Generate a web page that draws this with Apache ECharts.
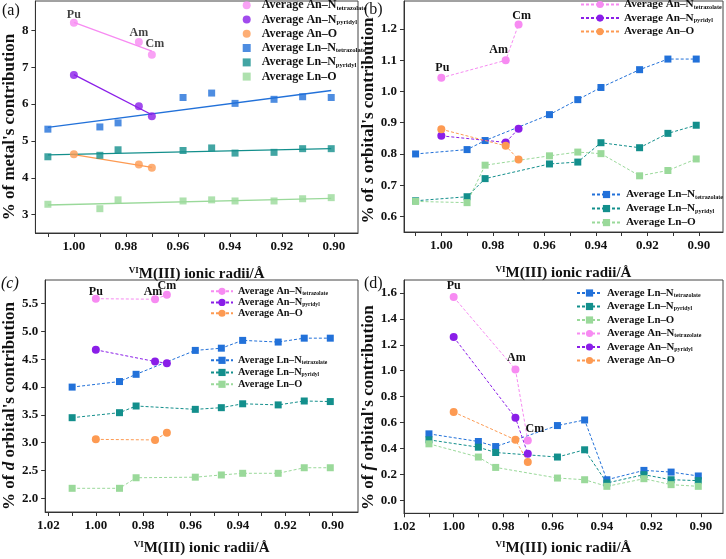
<!DOCTYPE html>
<html>
<head>
<meta charset="utf-8">
<script src="https://cdn.jsdelivr.net/npm/echarts@6/dist/echarts.min.js"></script>
<style>
  html, body { margin: 0; padding: 0; background: #fff; }
  #chart { width: 726px; height: 559px; }
</style>
</head>
<body>
<div id="chart"></div>
<script>
// ionic radii (Å)
const lnRadii = [1.01, 0.99, 0.983, 0.958, 0.947, 0.938, 0.923, 0.912, 0.901];
const anRadii = [1.00, 0.975, 0.97];
const anElements = ['Pu', 'Am', 'Cm'];

// tick values
const xLabelsAB = [1.00, 0.98, 0.96, 0.94, 0.92, 0.90];
const xTicksAB = [1.01, 1.00, 0.99, 0.98, 0.97, 0.96, 0.95, 0.94, 0.93, 0.92, 0.91, 0.90];
const xLabelsCD = [1.02, 1.00, 0.98, 0.96, 0.94, 0.92, 0.90];
const xTicksCD = [1.02, 1.01, 1.00, 0.99, 0.98, 0.97, 0.96, 0.95, 0.94, 0.93, 0.92, 0.91, 0.90];
const yTicksA = [3, 4, 5, 6, 7, 8];
const yTicksB = [0.6, 0.7, 0.8, 0.9, 1.0, 1.1, 1.2];
const yTicksC = [2.0, 2.5, 3.0, 3.5, 4.0, 4.5, 5.0, 5.5];
const yTicksD = [0.0, 0.2, 0.4, 0.6, 0.8, 1.0, 1.2, 1.4, 1.6];

// (a) metal's contribution
const metalAnTet = [8.21, 7.69, 7.34];
const metalAnPyr = [6.79, 5.94, 5.67];
const metalAnO = [4.64, 4.36, 4.27];
const metalLnTet = [5.32, 5.38, 5.49, 6.18, 6.30, 6.02, 6.13, 6.20, 6.18];
const metalLnPyr = [4.57, 4.61, 4.76, 4.74, 4.81, 4.67, 4.69, 4.79, 4.79];
const metalLnO = [3.28, 3.16, 3.40, 3.37, 3.40, 3.37, 3.37, 3.43, 3.46];
// (a) linear fits (end points)
const fitAnRadii = [1.00, 0.97];
const fitLnRadii = [1.01, 0.901];
const metalFitAnTet = [8.22, 7.44];
const metalFitAnPyr = [6.80, 5.71];
const metalFitAnO = [4.63, 4.28];
const metalFitLnTet = [5.37, 6.37];
const metalFitLnPyr = [4.62, 4.79];
const metalFitLnO = [3.26, 3.44];

// (b) s orbital
const sAnTet = [1.044, 1.100, 1.215];
const sAnPyr = [0.858, 0.837, 0.881];
const sAnO = [0.879, 0.826, 0.782];
const sLnTet = [0.800, 0.814, 0.843, 0.926, 0.974, 1.013, 1.070, 1.104, 1.104];
const sLnPyr = [0.650, 0.663, 0.721, 0.768, 0.774, 0.836, 0.820, 0.866, 0.892];
const sLnO = [0.648, 0.644, 0.764, 0.794, 0.806, 0.801, 0.730, 0.747, 0.784];

// (c) d orbital
const dAnTet = [5.59, 5.58, 5.66];
const dAnPyr = [4.67, 4.46, 4.43];
const dAnO = [3.06, 3.05, 3.18];
const dLnTet = [4.00, 4.10, 4.23, 4.66, 4.70, 4.84, 4.81, 4.88, 4.88];
const dLnPyr = [3.45, 3.54, 3.66, 3.60, 3.63, 3.70, 3.68, 3.75, 3.74];
const dLnO = [2.18, 2.18, 2.37, 2.38, 2.42, 2.45, 2.45, 2.55, 2.55];

// (d) f orbital
const fAnTet = [1.568, 1.010, 0.462];
const fAnPyr = [1.260, 0.637, 0.359];
const fAnO = [0.681, 0.467, 0.296];
const fLnTet = [0.513, 0.454, 0.415, 0.577, 0.620, 0.159, 0.231, 0.218, 0.188];
const fLnPyr = [0.467, 0.410, 0.369, 0.334, 0.390, 0.134, 0.198, 0.159, 0.152];
const fLnO = [0.436, 0.334, 0.254, 0.172, 0.159, 0.108, 0.167, 0.121, 0.108];

const FONT = "'Liberation Serif', 'Times New Roman', serif";
const INK = '#111';
const colors = {
  anTet: '#f78bf2', anPyr: '#8a1ee8', anO: '#fd9a52',
  lnTet: '#2271d9', lnPyr: '#138f8c', lnO: '#9ad99a'
};
const legendText = {
  anTet: '{m|Average An–N}{s|tetrazolate}',
  anPyr: '{m|Average An–N}{s|pyridyl}',
  anO: '{m|Average An–O}',
  lnTet: '{m|Average Ln–N}{s|tetrazolate}',
  lnPyr: '{m|Average Ln–N}{s|pyridyl}',
  lnO: '{m|Average Ln–O}'
};

const panels = [
  {
    id: 'a', kind: 'scatter',
    grid: { left: 32, top: 1, width: 326, height: 232 },
    xRange: [0.8907, 1.0148], xLabels: xLabelsAB, xTicks: xTicksAB, xGap: 33,
    yRange: [2.5, 8.8], yTicks: yTicksA, yDigits: 0, yGap: 13, yShift: 20,
    yName: "{n|% of metal's contribution}",
    data: { anTet: metalAnTet, anPyr: metalAnPyr, anO: metalAnO, lnTet: metalLnTet, lnPyr: metalLnPyr, lnO: metalLnO },
    labelOffsets: [[0, -8], [0, -9], [3, -11]]
  },
  {
    id: 'b', kind: 'line',
    grid: { left: 404, top: 1, width: 319, height: 231 },
    xRange: [0.8906, 1.0145], xLabels: xLabelsAB, xTicks: xTicksAB, xGap: 33,
    yRange: [0.55, 1.29], yTicks: yTicksB, yDigits: 1, yGap: 19, yShift: 8,
    yName: "{n|% of }{i|s}{n| orbital's contribution}",
    data: { anTet: sAnTet, anPyr: sAnPyr, anO: sAnO, lnTet: sLnTet, lnPyr: sLnPyr, lnO: sLnO },
    labelOffsets: [[1, -10], [-7, -10], [3, -9]]
  },
  {
    id: 'c', kind: 'line',
    grid: { left: 33, top: 280, width: 325, height: 232 },
    xRange: [0.8893, 1.0214], xLabels: xLabelsCD, xTicks: xTicksCD, xGap: 28,
    yRange: [1.754, 5.926], yTicks: yTicksC, yDigits: 1, yGap: 17, yShift: 20,
    yName: "{n|% of }{i|d}{n| orbital's contribution}",
    data: { anTet: dAnTet, anPyr: dAnPyr, anO: dAnO, lnTet: dLnTet, lnPyr: dLnPyr, lnO: dLnO },
    labelOffsets: [[0, -7], [-2, -7], [0, -9]]
  },
  {
    id: 'd', kind: 'line',
    grid: { left: 404, top: 280, width: 319, height: 233.3 },
    xRange: [0.891, 1.0201], xLabels: xLabelsCD, xTicks: xTicksCD, xGap: 27,
    yRange: [-0.1, 1.7], yTicks: yTicksD, yDigits: 1, yGap: 24, yShift: 22,
    yName: "{n|% of }{i|f}{n| orbital's contribution}",
    data: { anTet: fAnTet, anPyr: fAnPyr, anO: fAnO, lnTet: fLnTet, lnPyr: fLnPyr, lnO: fLnO },
    labelOffsets: [[0, -11], [1, -12], [7, -12]]
  }
];

const tickLabelStyle = { fontFamily: FONT, fontWeight: 'bold', fontSize: 13, color: INK };
const xNameRich = {
  n: { fontFamily: FONT, fontWeight: 'bold', fontSize: 15, color: INK },
  sup: { fontFamily: FONT, fontWeight: 'bold', fontSize: 9, color: INK, padding: [0, 0, 7, 0] }
};
const yNameRich = {
  n: { fontFamily: FONT, fontWeight: 'bold', fontSize: 17, color: INK },
  i: { fontFamily: FONT, fontWeight: 'bold', fontStyle: 'italic', fontSize: 17, color: INK }
};

const grids = [], xAxes = [], yAxes = [], series = [];

panels.forEach((p, i) => {
  grids.push({ ...p.grid, show: true, borderColor: '#444', borderWidth: 1, containLabel: false });

  xAxes.push({
    gridIndex: i, type: 'value', inverse: true,
    min: p.xRange[0], max: p.xRange[1],
    splitLine: { show: false },
    axisLine: { onZero: false, lineStyle: { color: '#333', width: 1 } },
    axisTick: { show: true, length: 4, customValues: p.xTicks, lineStyle: { color: '#333' } },
    axisLabel: { ...tickLabelStyle, margin: 7, customValues: p.xLabels, formatter: v => v.toFixed(2) },
    name: '{sup|VI}{n|M(III) ionic radii/Å}',
    nameLocation: 'middle', nameGap: p.xGap,
    nameTextStyle: { rich: xNameRich }
  });

  yAxes.push({
    gridIndex: i, type: 'value',
    min: p.yRange[0], max: p.yRange[1],
    splitLine: { show: false },
    axisLine: { show: true, onZero: false, lineStyle: { color: '#333', width: 1 } },
    axisTick: { show: true, length: 4, customValues: p.yTicks, lineStyle: { color: '#333' } },
    axisLabel: { ...tickLabelStyle, margin: 7, customValues: p.yTicks, formatter: v => v.toFixed(p.yDigits) },
    name: p.yName,
    nameLocation: 'middle', nameRotate: 90, nameGap: p.yGap,
    nameTextStyle: { rich: yNameRich, padding: [0, p.yShift, 0, 0] }
  });

  // Ln first, An drawn on top
  ['lnTet', 'lnPyr', 'lnO', 'anTet', 'anPyr', 'anO'].forEach(key => {
    const isAn = key.startsWith('an');
    const xs = isAn ? anRadii : lnRadii;
    const ys = p.data[key];
    series.push({
      name: p.id + ':' + key,
      type: p.kind,
      xAxisIndex: i, yAxisIndex: i,
      symbol: isAn ? 'circle' : 'rect',
      symbolSize: isAn ? 8 : 7,
      showSymbol: true,
      z: isAn ? 4 : 3,
      itemStyle: { color: colors[key] },
      lineStyle: { color: colors[key], width: 1, type: [3, 2] },
      data: xs.map((x, j) => {
        const item = { value: [x, ys[j]] };
        if (key === 'anTet') {
          item.name = anElements[j];
          item.label = {
            show: true, position: 'inside', offset: p.labelOffsets[j],
            formatter: '{b}', fontFamily: FONT, fontWeight: 'bold', fontSize: 12, color: INK
          };
        }
        return item;
      })
    });
  });
});

// linear fits in (a)
[
  ['anTet', fitAnRadii, metalFitAnTet],
  ['anPyr', fitAnRadii, metalFitAnPyr],
  ['anO', fitAnRadii, metalFitAnO],
  ['lnTet', fitLnRadii, metalFitLnTet],
  ['lnPyr', fitLnRadii, metalFitLnPyr],
  ['lnO', fitLnRadii, metalFitLnO]
].forEach(([key, xs, ys]) => {
  series.push({
    type: 'line', xAxisIndex: 0, yAxisIndex: 0, symbol: 'none', silent: true, z: 2,
    lineStyle: { color: colors[key], width: 1.3 },
    data: xs.map((x, j) => [x, ys[j]])
  });
});

function legendRich(size, lh, padLeft) {
  return {
    m: { fontFamily: FONT, fontWeight: 'bold', fontSize: size, color: INK, lineHeight: lh, padding: [0, 0, 0, padLeft] },
    s: { fontFamily: FONT, fontWeight: 'bold', fontSize: size * 0.55, color: INK, lineHeight: lh, padding: [size * 0.45, 0, 0, 0] }
  };
}
function makeLegend(panelId, keys, opts, size, lh, padLeft) {
  return {
    data: keys.map(k => panelId + ':' + k),
    orient: 'vertical', padding: 0,
    formatter: name => legendText[name.split(':')[1]],
    textStyle: { rich: legendRich(size, lh, padLeft || 0) },
    selectedMode: false,
    ...opts
  };
}

const option = {
  animation: false,
  backgroundColor: '#fff',
  grid: grids,
  xAxis: xAxes,
  yAxis: yAxes,
  series: series,
  legend: [
    makeLegend('a', ['anTet', 'anPyr', 'anO', 'lnTet', 'lnPyr', 'lnO'],
      { left: 242.7, top: -1, itemWidth: 8, itemHeight: 8, itemGap: 2 }, 12, 14, 6),
    makeLegend('b', ['anTet', 'anPyr', 'anO'],
      { left: 580, top: -1, itemWidth: 38, itemHeight: 9, itemGap: 2.5 }, 11.2, 14),
    makeLegend('b', ['lnTet', 'lnPyr', 'lnO'],
      { left: 591, top: 189, itemWidth: 29, itemHeight: 9, itemGap: 3 }, 11.2, 14),
    makeLegend('c', ['anTet', 'anPyr', 'anO'],
      { left: 210, top: 286, itemWidth: 22, itemHeight: 9, itemGap: 0.5 }, 10.3, 12),
    makeLegend('c', ['lnTet', 'lnPyr', 'lnO'],
      { left: 210, top: 355, itemWidth: 22, itemHeight: 9, itemGap: 1.5 }, 10.3, 12.5),
    makeLegend('d', ['lnTet', 'lnPyr', 'lnO', 'anTet', 'anPyr', 'anO'],
      { left: 576, top: 287.5, itemWidth: 25, itemHeight: 9, itemGap: 2.5 }, 10.8, 13)
  ],
  graphic: [
    { type: 'text', left: 2, top: 3, style: { text: '(a)', font: '16px ' + FONT, fill: INK } },
    { type: 'text', left: 364, top: 2, style: { text: '(b)', font: '16px ' + FONT, fill: INK } },
    { type: 'text', left: 1, top: 276, style: { text: '(c)', font: 'italic 16px ' + FONT, fill: INK } },
    { type: 'text', left: 364, top: 276, style: { text: '(d)', font: '16px ' + FONT, fill: INK } }
  ]
};

const chart = echarts.init(document.getElementById('chart'));
chart.setOption(option);
</script>
</body>
</html>
